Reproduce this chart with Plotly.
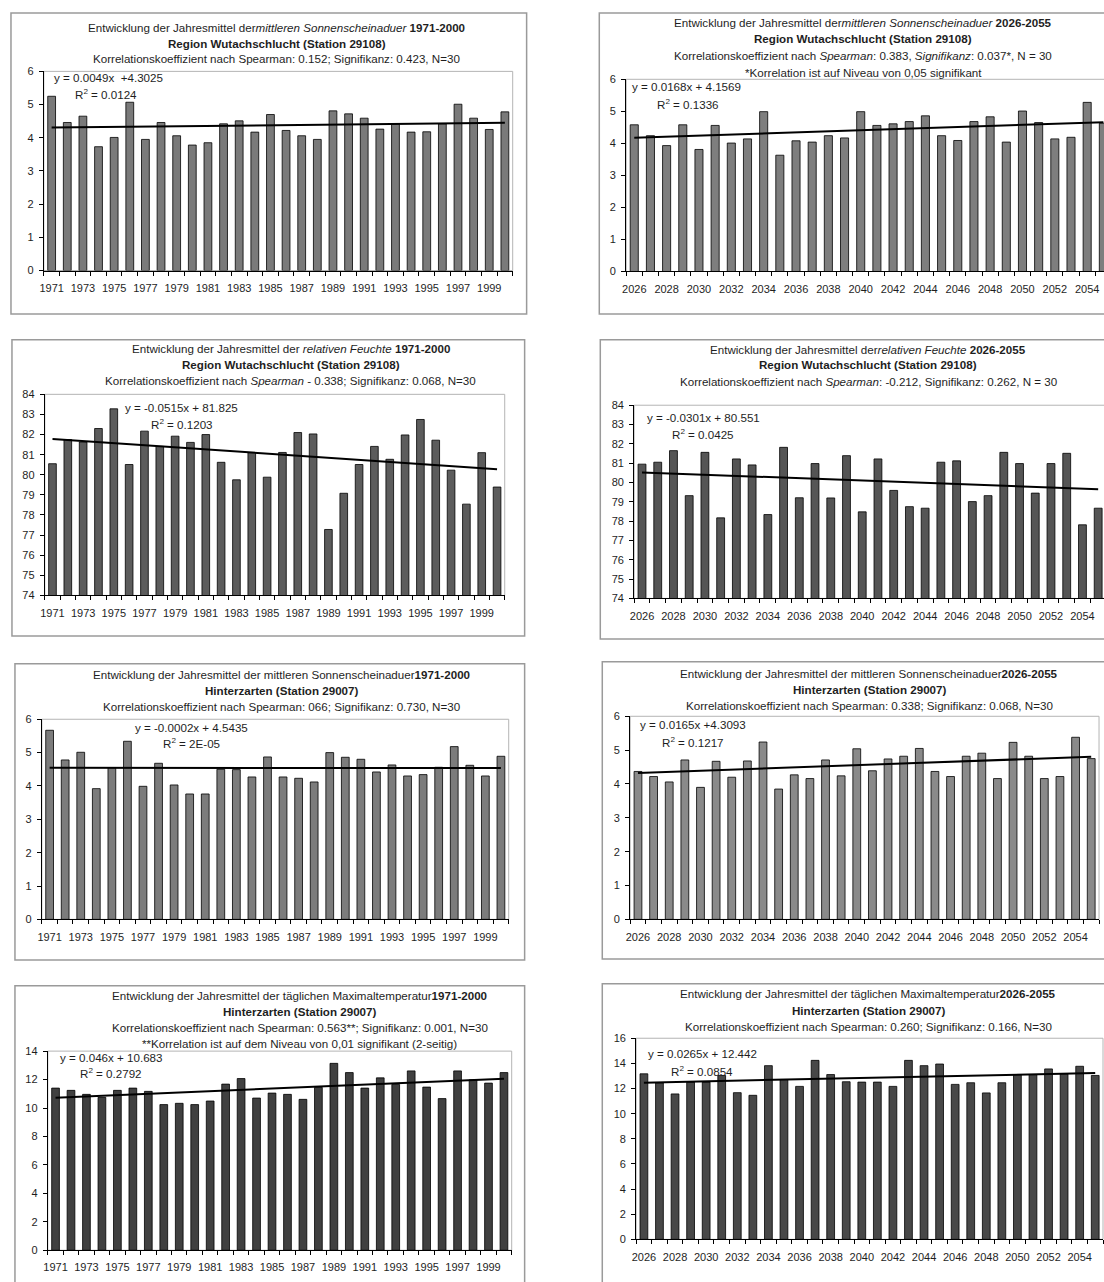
import plotly.graph_objects as go

W, H = 1104, 1282

# ---------------- data ----------------
years_hist = [1971, 1972, 1973, 1974, 1975, 1976, 1977, 1978, 1979, 1980,
              1981, 1982, 1983, 1984, 1985, 1986, 1987, 1988, 1989, 1990,
              1991, 1992, 1993, 1994, 1995, 1996, 1997, 1998, 1999, 2000]
years_fut = [2026, 2027, 2028, 2029, 2030, 2031, 2032, 2033, 2034, 2035,
             2036, 2037, 2038, 2039, 2040, 2041, 2042, 2043, 2044, 2045,
             2046, 2047, 2048, 2049, 2050, 2051, 2052, 2053, 2054, 2055]

ticks_hist = [1971, 1973, 1975, 1977, 1979, 1981, 1983, 1985, 1987, 1989,
              1991, 1993, 1995, 1997, 1999]
ticks_fut = [2026, 2028, 2030, 2032, 2034, 2036, 2038, 2040, 2042, 2044,
             2046, 2048, 2050, 2052, 2054]

sun_wut_hist = [5.25, 4.46, 4.65, 3.73, 4.01, 5.07, 3.95, 4.46, 4.06, 3.78,
                3.85, 4.42, 4.51, 4.17, 4.70, 4.22, 4.06, 3.95, 4.81, 4.72,
                4.59, 4.26, 4.42, 4.17, 4.18, 4.42, 5.01, 4.59, 4.25, 4.78]
sun_wut_fut = [4.58, 4.24, 3.93, 4.58, 3.81, 4.56, 4.01, 4.14, 4.99, 3.63,
               4.08, 4.04, 4.24, 4.17, 4.99, 4.56, 4.61, 4.68, 4.86, 4.24,
               4.09, 4.68, 4.83, 4.04, 5.01, 4.65, 4.14, 4.19, 5.28, 4.63]
rh_wut_hist = [80.55, 81.75, 81.63, 82.30, 83.28, 80.51, 82.17, 81.41, 81.92, 81.61,
               82.00, 80.62, 79.75, 81.10, 79.88, 81.11, 82.10, 82.03, 77.28, 79.08,
               80.51, 81.41, 80.77, 81.98, 82.75, 81.72, 80.23, 78.54, 81.10, 79.39]
rh_wut_fut = [80.95, 81.05, 81.65, 79.32, 81.56, 78.17, 81.22, 80.91, 78.34, 81.82,
              79.21, 80.98, 79.20, 81.39, 78.48, 81.22, 79.59, 78.75, 78.67, 81.05,
              81.12, 79.01, 79.32, 81.56, 80.98, 79.45, 80.98, 81.51, 77.81, 78.67]
sun_hz_hist = [5.67, 4.78, 5.01, 3.92, 4.55, 5.34, 3.99, 4.68, 4.03, 3.76,
               3.76, 4.50, 4.49, 4.27, 4.87, 4.27, 4.23, 4.12, 5.00, 4.86,
               4.80, 4.42, 4.63, 4.30, 4.34, 4.56, 5.18, 4.62, 4.30, 4.89]
sun_hz_fut = [4.37, 4.22, 4.06, 4.71, 3.90, 4.67, 4.20, 4.68, 5.24, 3.85,
              4.27, 4.16, 4.71, 4.24, 5.04, 4.39, 4.74, 4.82, 5.05, 4.37,
              4.22, 4.82, 4.91, 4.16, 5.23, 4.82, 4.16, 4.22, 5.38, 4.75]
tmax_hz_hist = [11.40, 11.24, 10.96, 10.75, 11.24, 11.40, 11.17, 10.24, 10.33, 10.24,
                10.49, 11.68, 12.07, 10.70, 11.05, 10.96, 10.61, 11.45, 13.14, 12.49,
                11.40, 12.12, 11.66, 12.61, 11.47, 10.66, 12.61, 11.98, 11.75, 12.49]
tmax_hz_fut = [13.17, 12.45, 11.57, 12.51, 12.51, 13.04, 11.67, 11.46, 13.82, 12.72,
               12.17, 14.24, 13.11, 12.54, 12.51, 12.51, 12.17, 14.24, 13.82, 13.95,
               12.33, 12.46, 11.65, 12.46, 13.11, 13.11, 13.56, 13.17, 13.77, 13.04]

# trend lines as printed in the charts (slope, intercept; x = 1..30)
trend_sun_wut_hist = (0.0049, 4.3025)
trend_sun_wut_fut = (0.0168, 4.1569)
trend_rh_wut_hist = (-0.0515, 81.825)
trend_rh_wut_fut = (-0.0301, 80.551)
trend_sun_hz_hist = (-0.0002, 4.5435)
trend_sun_hz_fut = (0.0165, 4.3093)
trend_tmax_hz_hist = (0.046, 10.683)
trend_tmax_hz_fut = (0.0265, 12.442)

# ---------------- panel definitions ----------------
panels = [
    dict(years=years_hist, vals=sun_wut_hist, trend=trend_sun_wut_hist, ticks=ticks_hist,
         box=(6, 7, 524, 311), plot=(39, 66, 510, 267), xr=(1970.5, 2000.5), yr=(0, 6), dt=1,
         bar="#7a7a7a", cut=False,
         title_cx=273, title_y=[22, 38, 53],
         title=["Entwicklung der Jahresmittel der<i>mittleren Sonnenscheinaduer</i> <b>1971-2000</b>",
                "<b>Region Wutachschlucht (Station 29108)</b>",
                "Korrelationskoeffizient nach Spearman: 0.152; Signifikanz: 0.423, N=30"],
         eq=("y = 0.0049x  +4.3025", "R<sup>2</sup> = 0.0124"), eqpos=((47, 72), (68, 89))),
    dict(years=years_fut, vals=sun_wut_fut, trend=trend_sun_wut_fut, ticks=ticks_fut,
         box=(597, 7, 1110, 311), plot=(624, 74, 1104, 268), xr=(2025.5, 2055.04), yr=(0, 6), dt=1,
         bar="#7e7e7e", cut=True,
         title_cx=862, title_y=[17, 33, 50, 67],
         title=["Entwicklung der Jahresmittel der<i>mittleren Sonnenscheinaduer</i> <b>2026-2055</b>",
                "<b>Region Wutachschlucht (Station 29108)</b>",
                "Korrelationskoeffizient nach <i>Spearman</i>: 0.383, <i>Signifikanz</i>: 0.037*, N = 30",
                "*Korrelation ist auf Niveau von 0,05 signifikant"],
         eq=("y = 0.0168x + 4.1569", "R<sup>2</sup> = 0.1336"), eqpos=((628, 81), (653, 99))),
    dict(years=years_hist, vals=rh_wut_hist, trend=trend_rh_wut_hist, ticks=ticks_hist,
         box=(7, 337, 522, 636), plot=(40, 392, 502, 595), xr=(1970.5, 2000.5), yr=(74, 84), dt=1,
         bar="#5c5c5c", cut=False,
         title_cx=287, title_y=[346, 362, 378],
         title=["Entwicklung der Jahresmittel der <i>relativen Feuchte</i> <b>1971-2000</b>",
                "<b>Region Wutachschlucht (Station 29108)</b>",
                "Korrelationskoeffizient nach <i>Spearman</i> - 0.338; Signifikanz: 0.068, N=30"],
         eq=("y = -0.0515x + 81.825", "R<sup>2</sup> = 0.1203"), eqpos=((119, 405), (145, 422))),
    dict(years=years_fut, vals=rh_wut_fut, trend=trend_rh_wut_fut, ticks=ticks_fut,
         box=(598, 337, 1110, 639), plot=(632, 403, 1104, 598), xr=(2025.5, 2055.37), yr=(74, 84), dt=1,
         bar="#555555", cut=True,
         title_cx=867, title_y=[347, 362, 379],
         title=["Entwicklung der Jahresmittel der<i>relativen Feuchte</i> <b>2026-2055</b>",
                "<b>Region Wutachschlucht (Station 29108)</b>",
                "Korrelationskoeffizient nach <i>Spearman</i>: -0.212, Signifikanz: 0.262, N = 30"],
         eq=("y = -0.0301x + 80.551", "R<sup>2</sup> = 0.0425"), eqpos=((643, 415), (668, 432))),
    dict(years=years_hist, vals=sun_hz_hist, trend=trend_sun_hz_hist, ticks=ticks_hist,
         box=(10, 664, 522, 963), plot=(37, 720, 506, 922), xr=(1970.5, 2000.5), yr=(0, 6), dt=1,
         bar="#7c7c7c", cut=False,
         title_cx=278, title_y=[675, 691, 707],
         title=["Entwicklung der Jahresmittel der mittleren Sonnenscheinaduer<b>1971-2000</b>",
                "<b>Hinterzarten (Station 29007)</b>",
                "Korrelationskoeffizient nach Spearman: 066; Signifikanz: 0.730, N=30"],
         eq=("y = -0.0002x + 4.5435", "R<sup>2</sup> = 2E-05"), eqpos=((129, 728), (157, 744))),
    dict(years=years_fut, vals=sun_hz_fut, trend=trend_sun_hz_fut, ticks=ticks_fut,
         box=(600, 662, 1110, 962), plot=(628, 717, 1099, 922), xr=(2025.5, 2055.5), yr=(0, 6), dt=1,
         bar="#8a8a8a", cut=False,
         title_cx=868, title_y=[674, 690, 706],
         title=["Entwicklung der Jahresmittel der mittleren Sonnenscheinaduer<b>2026-2055</b>",
                "<b>Hinterzarten (Station 29007)</b>",
                "Korrelationskoeffizient nach Spearman: 0.338; Signifikanz: 0.068, N=30"],
         eq=("y = 0.0165x +4.3093", "R<sup>2</sup> = 0.1217"), eqpos=((636, 725), (658, 743))),
    dict(years=years_hist, vals=tmax_hz_hist, trend=trend_tmax_hz_hist, ticks=ticks_hist,
         box=(10, 989, 522, 1300), plot=(43, 1055, 509, 1256), xr=(1970.5, 2000.5), yr=(0, 14), dt=2,
         bar="#404040", cut=False,
         title_cx=296, title_y=[999, 1015, 1031, 1047],
         title=["Entwicklung der Jahresmittel der täglichen Maximaltemperatur<b>1971-2000</b>",
                "<b>Hinterzarten (Station 29007)</b>",
                "Korrelationskoeffizient nach Spearman: 0.563**; Signifikanz: 0.001, N=30",
                "**Korrelation ist auf dem Niveau von 0,01 signifikant (2-seitig)"],
         eq=("y = 0.046x + 10.683", "R<sup>2</sup> = 0.2792"), eqpos=((53, 1061), (73, 1077))),
    dict(years=years_fut, vals=tmax_hz_fut, trend=trend_tmax_hz_fut, ticks=ticks_fut,
         box=(600, 987, 1110, 1300), plot=(634, 1042, 1103, 1245), xr=(2025.5, 2055.5), yr=(0, 16), dt=2,
         bar="#484848", cut=False,
         title_cx=867, title_y=[997, 1014, 1030],
         title=["Entwicklung der Jahresmittel der täglichen Maximaltemperatur<b>2026-2055</b>",
                "<b>Hinterzarten (Station 29007)</b>",
                "Korrelationskoeffizient nach Spearman: 0.260; Signifikanz: 0.166, N=30"],
         eq=("y = 0.0265x + 12.442", "R<sup>2</sup> = 0.0854"), eqpos=((644, 1057), (667, 1075))),
]

FONT = "Liberation Sans, Arial, sans-serif"
TXT = "#1e1e1e"
TITLE_SIZE = 11.6
EQ_SIZE = 11.6
TICK_SIZE = 11


def px(x):
    return x / W


def py(y):
    return 1 - y / H


fig = go.Figure()
shapes = []
annotations = []
layout_axes = {}

for i, p in enumerate(panels, start=1):
    xa = "x" if i == 1 else f"x{i}"
    ya = "y" if i == 1 else f"y{i}"
    xkey = "xaxis" if i == 1 else f"xaxis{i}"
    ykey = "yaxis" if i == 1 else f"yaxis{i}"

    fig.add_trace(go.Bar(
        x=p["years"], y=p["vals"], width=0.5,
        marker=dict(color=p["bar"], line=dict(color="#000000", width=0.8)),
        xaxis=xa, yaxis=ya, showlegend=False, hoverinfo="x+y"))

    slope, icpt = p["trend"]
    ty = [slope * (k + 1) + icpt for k in range(len(p["years"]))]
    fig.add_trace(go.Scatter(
        x=p["years"], y=ty, mode="lines",
        line=dict(color="#000000", width=2),
        xaxis=xa, yaxis=ya, showlegend=False, hoverinfo="skip"))

    l, t, r, b = p["plot"]
    lo, hi = p["xr"]
    bounds = [y - 0.5 for y in p["years"]] + [p["years"][-1] + 0.5]
    layout_axes[xkey] = dict(
        domain=[px(l), px(r)], range=[lo, hi], anchor=ya,
        showline=True, linecolor="#000000", linewidth=1,
        showgrid=False, zeroline=False,
        tickmode="array", tickvals=p["ticks"], ticktext=[str(v) for v in p["ticks"]],
        ticks="", ticklabelstandoff=7,
        tickfont=dict(family=FONT, size=TICK_SIZE, color=TXT),
        minor=dict(tickmode="array", tickvals=bounds, ticks="outside",
                   ticklen=4, tickcolor="#000000", tickwidth=1, showgrid=False),
        fixedrange=True)
    y0, y1 = p["yr"]
    layout_axes[ykey] = dict(
        domain=[py(b), py(t)], range=[y0, y1], anchor=xa,
        showline=True, linecolor="#000000", linewidth=1,
        showgrid=False, zeroline=False,
        tickmode="linear", tick0=y0, dtick=p["dt"],
        ticks="outside", ticklen=4, tickcolor="#000000",
        ticklabelstandoff=3,
        tickfont=dict(family=FONT, size=TICK_SIZE, color=TXT),
        fixedrange=True)

    # plot area border (light gray)
    shapes.append(dict(type="rect", xref=f"{xa} domain", yref=f"{ya} domain",
                       x0=0, x1=1.06 if p["cut"] else 1, y0=0, y1=1,
                       line=dict(color="#b4b4b4", width=1), layer="below"))
    # panel frame
    bl, bt, br, bb = p["box"]
    shapes.append(dict(type="rect", xref="paper", yref="paper",
                       x0=px(bl), x1=px(br), y0=py(bb), y1=py(bt),
                       line=dict(color="#9a9a9a", width=1.5), layer="below"))

    for txt, yy in zip(p["title"], p["title_y"]):
        annotations.append(dict(text=txt, xref="paper", yref="paper",
                                x=px(p["title_cx"]), y=py(yy), xanchor="center", yanchor="middle",
                                showarrow=False, font=dict(family=FONT, size=TITLE_SIZE, color=TXT)))
    for txt, (ex, ey) in zip(p["eq"], p["eqpos"]):
        annotations.append(dict(text=txt, xref="paper", yref="paper",
                                x=px(ex), y=py(ey), xanchor="left", yanchor="middle",
                                showarrow=False, font=dict(family=FONT, size=EQ_SIZE, color=TXT)))

fig.update_layout(
    width=W, height=H, margin=dict(l=0, r=0, t=0, b=0),
    paper_bgcolor="#ffffff", plot_bgcolor="rgba(0,0,0,0)",
    bargap=0.5, showlegend=False,
    shapes=shapes, annotations=annotations,
    **layout_axes)

fig.write_html("out.html",
               config={"displayModeBar": False, "staticPlot": True},
               post_script="document.body.style.margin='0px';document.body.style.padding='0px';"
                           "document.body.style.overflow='hidden';")
